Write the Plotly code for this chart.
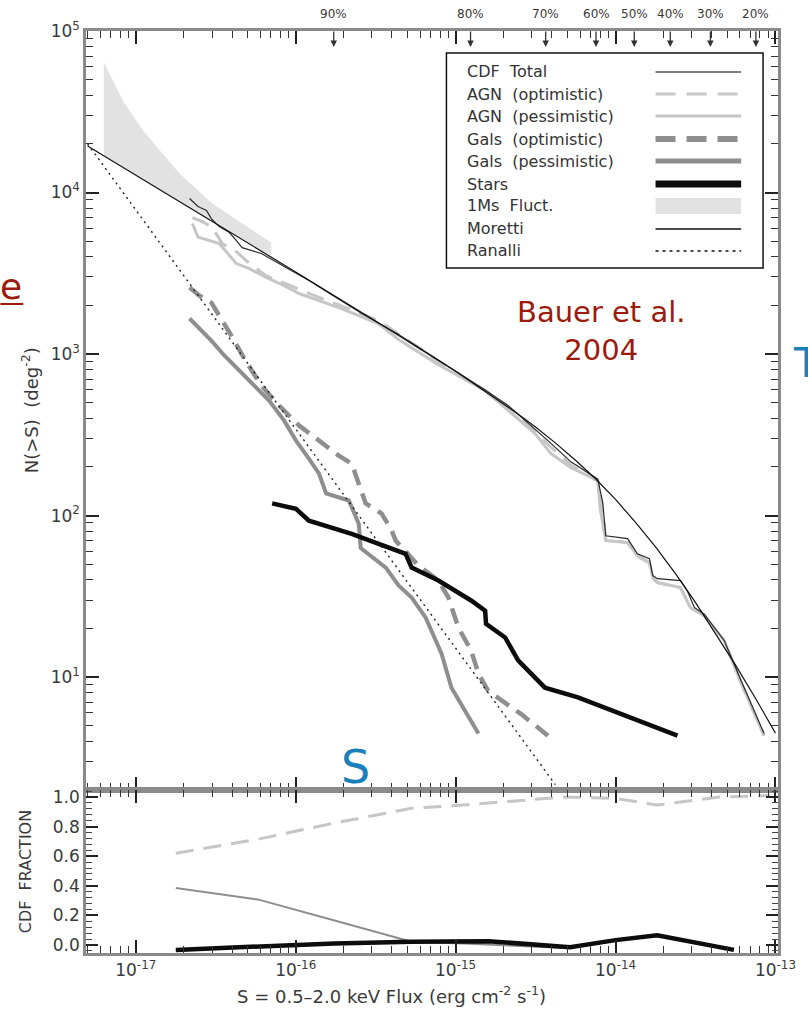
import math
import plotly.graph_objects as go

# ---------------- data ----------------
# Moretti et al. model curve, N(>S) in deg^-2 vs flux S (erg cm^-2 s^-1)
moretti_s = [5e-18, 1e-17, 3.16e-17, 1e-16, 3.16e-16, 1e-15, 1.78e-15, 2.37e-15, 3.16e-15,
             4.22e-15, 5.62e-15, 7.5e-15, 1e-14, 1.33e-14, 1.78e-14, 2.37e-14, 3.16e-14,
             4.22e-14, 5.62e-14, 7.5e-14, 1e-13]
moretti_n = [19400, 12850, 6440, 3220, 1600, 782, 533, 436, 353, 281, 220, 169, 126, 91,
             64, 43.7, 29, 18.7, 11.9, 7.4, 4.5]

# Ranalli et al. power law
ranalli_s = [5e-18, 1e-16, 1e-15, 4.2e-15]
ranalli_n = [20000, 345, 15.2, 2.16]

# 1Ms fluctuation band
fluct_s = [6.32e-18, 8.3e-18, 1.11e-17, 1.88e-17, 3.01e-17, 5.35e-17, 7.03e-17]
fluct_hi = [63800, 37150, 24200, 13100, 8550, 5820, 4900]
fluct_lo = [16900, 14400, 12100, 8810, 6640, 4700, 4100]

# CDF total
cdf_s = [2.17e-17, 2.45e-17, 2.77e-17, 2.97e-17, 3.33e-17, 3.85e-17, 4.26e-17, 4.63e-17,
         6.1e-17, 7.88e-17, 1.21e-16, 1.79e-16, 2.59e-16, 4.4e-16, 7.81e-16, 1.53e-15,
         2.13e-15, 3.14e-15, 3.95e-15, 5.26e-15, 7.75e-15, 8.32e-15, 8.69e-15, 1.19e-14,
         1.37e-14, 1.63e-14, 1.71e-14, 1.83e-14, 2.55e-14, 2.82e-14, 3.11e-14, 3.59e-14,
         4.79e-14, 6.02e-14, 8.49e-14]
cdf_n = [9180, 8200, 7750, 6900, 6150, 5650, 5040, 4560, 4190, 3630, 2850, 2240, 1780,
         1320, 920, 600, 480, 345, 280, 215, 168, 120, 75, 72, 58, 54, 42.5, 40.7, 39.6,
         34, 27, 24.5, 16.8, 9.8, 4.47]

# AGN (pessimistic)
agnp_s = [2.26e-17, 2.45e-17, 3.33e-17, 3.85e-17, 4.26e-17, 5.13e-17, 6.55e-17, 8.47e-17,
          1.05e-16, 1.4e-16, 1.86e-16, 2.48e-16, 3.3e-16, 4.4e-16, 7.81e-16, 1.53e-15,
          2.13e-15, 3.14e-15, 3.95e-15, 5.26e-15, 7.75e-15, 8.0e-15, 8.69e-15, 1.19e-14,
          1.37e-14, 1.63e-14, 1.71e-14, 1.83e-14, 2.55e-14, 2.94e-14, 3.59e-14, 4.79e-14,
          6.02e-14, 8.49e-14]
agnp_n = [6430, 5300, 4830, 4070, 3630, 3380, 2980, 2650, 2370, 2140, 1940, 1730, 1540,
          1230, 860, 594, 447, 322, 242, 198, 165, 112, 70, 68, 56.5, 51.2, 41.3, 38.5,
          35.8, 26.9, 24.0, 16.8, 9.5, 4.34]

# AGN (optimistic)
agno_s = [2.26e-17, 2.61e-17, 3.01e-17, 3.48e-17, 4.26e-17, 4.91e-17, 6.55e-17, 8.47e-17,
          1.005e-16, 1.4e-16, 2.06e-16, 3.3e-16, 5.86e-16, 1.0e-15, 1.53e-15, 2.13e-15,
          3.14e-15, 3.95e-15, 5.26e-15, 7.75e-15, 8.2e-15, 8.69e-15, 1.19e-14, 1.37e-14,
          1.63e-14, 1.71e-14, 1.83e-14, 2.55e-14, 2.94e-14, 3.59e-14, 4.79e-14, 6.02e-14,
          8.49e-14]
agno_n = [7000, 6600, 6070, 4830, 4300, 3790, 3050, 2750, 2580, 2240, 1940, 1610, 1100,
          760, 598, 460, 330, 265, 205, 163, 120, 71, 68, 56, 51, 41, 38.5, 35.8, 26.9,
          24.0, 16.8, 9.5, 4.34]

# Galaxies (optimistic)
galo_s = [2.17e-17, 2.5e-17, 2.97e-17, 3.33e-17, 3.96e-17, 4.77e-17, 6.1e-17, 7.88e-17,
          1.05e-16, 1.4e-16, 1.86e-16, 2.24e-16, 2.48e-16, 2.74e-16, 3.45e-16, 3.98e-16,
          4.22e-16, 5.86e-16, 7.81e-16, 9.02e-16, 1.04e-15, 1.25e-15, 1.39e-15, 1.6e-15,
          2.57e-15, 3.78e-15]
galo_n = [2580, 2300, 2080, 1730, 1300, 938, 638, 480, 361, 291, 235, 210, 158, 119, 103,
          81, 70, 49, 39.6, 31.1, 20.3, 14.6, 10.5, 8.2, 5.9, 4.34]

# Galaxies (pessimistic)
galp_s = [2.17e-17, 2.5e-17, 2.97e-17, 3.58e-17, 4.44e-17, 5.51e-17, 6.82e-17, 8.47e-17,
          1.005e-16, 1.21e-16, 1.4e-16, 1.55e-16, 2.15e-16, 2.48e-16, 2.55e-16, 3.66e-16,
          4.4e-16, 5.31e-16, 6.49e-16, 8.16e-16, 9.42e-16, 1.39e-15]
galp_n = [1660, 1440, 1210, 980, 791, 638, 515, 387, 291, 225, 182, 137, 124, 89, 63, 47.6,
          36.9, 31.1, 23.4, 14.0, 8.6, 4.47]

# Stars
star_s = [7.13e-17, 1.005e-16, 1.21e-16, 2.24e-16, 4.87e-16, 5.31e-16, 7.81e-16, 1.25e-15,
          1.53e-15, 1.55e-15, 2.04e-15, 2.46e-15, 3.62e-15, 5.82e-15, 2.44e-14]
star_n = [119, 110, 93, 77, 58, 47.6, 39.6, 29.8, 25.8, 21.4, 17.6, 12.7, 8.6, 7.5, 4.34]

# Completeness levels along the top axis
pct_labels = ["90%", "80%", "70%", "60%", "50%", "40%", "30%", "20%"]
pct_flux = [1.73e-16, 1.24e-15, 3.66e-15, 7.55e-15, 1.31e-14, 2.2e-14, 3.92e-14, 7.55e-14]

# Lower panel: cumulative fractions
frac_agn_s = [1.78e-17, 5.79e-17, 1.75e-16, 5.3e-16, 1.11e-15, 4.85e-15, 1e-14, 1.82e-14,
              4.47e-14, 9.3e-14]
frac_agn = [0.62, 0.714, 0.824, 0.923, 0.945, 1.0, 0.99, 0.945, 1.0, 1.01]
frac_gal_s = [1.78e-17, 5.79e-17, 1.75e-16, 5.3e-16, 1.11e-15, 4.85e-15]
frac_gal = [0.385, 0.308, 0.165, 0.022, 0.011, -0.02]
frac_star_s = [1.78e-17, 5.79e-17, 1.75e-16, 5.3e-16, 1.6e-15, 5.2e-15, 1e-14, 1.82e-14,
               5.5e-14]
frac_star = [-0.033, -0.011, 0.011, 0.022, 0.026, -0.015, 0.033, 0.066, -0.033]

legend_rows = ["CDF  Total", "AGN  (optimistic)", "AGN  (pessimistic)", "Gals  (optimistic)",
               "Gals  (pessimistic)", "Stars", "1Ms  Fluct.", "Moretti", "Ranalli"]

# tick positions / labels
x_major = [1e-17, 1e-16, 1e-15, 1e-14, 1e-13]
x_major_text = ["10<sup>-17</sup>", "10<sup>-16</sup>", "10<sup>-15</sup>",
                "10<sup>-14</sup>", "10<sup>-13</sup>"]
y_major = [10, 100, 1000, 10000, 100000]
y_major_text = ["10<sup>1</sup>", "10<sup>2</sup>", "10<sup>3</sup>", "10<sup>4</sup>",
                "10<sup>5</sup>"]

# ---------------- layout geometry ----------------
W, H = 808, 1011
L_M, R_M, T_M, B_M = 86, 27, 31, 58
PW, PH = W - L_M - R_M, H - T_M - B_M
SPLIT = 790  # pixel row where the two panels meet


def px(xpix):
    return (xpix - L_M) / PW


def py(ypix):
    return (H - B_M - ypix) / PH


def log_minor_vals(lo_exp, hi_exp):
    return [m * 10.0 ** e for e in range(lo_exp, hi_exp + 1) for m in range(2, 10)]


low_top = py(SPLIT)

C_LIGHT = "#c6c6c6"
C_MID = "#8e8e8e"
C_DARK = "#0c0c0c"
FONT = "DejaVu Sans"
TXT = "#3a3a3a"

fig = go.Figure()

# fluctuation band
fig.add_trace(go.Scatter(
    x=fluct_s + fluct_s[::-1], y=fluct_hi + fluct_lo[::-1],
    fill="toself", fillcolor="#e2e2e2", line=dict(width=0), mode="lines",
    xaxis="x", yaxis="y", hoverinfo="skip"))

main_lines = [
    (agnp_s, agnp_n, dict(color=C_LIGHT, width=3)),
    (agno_s, agno_n, dict(color=C_LIGHT, width=3, dash="18px,10px")),
    (cdf_s, cdf_n, dict(color="#2a2a2a", width=1.2)),
    (moretti_s, moretti_n, dict(color="#111111", width=1.2)),
    (galp_s, galp_n, dict(color=C_MID, width=4)),
    (galo_s, galo_n, dict(color=C_MID, width=4.5, dash="16px,9px")),
    (star_s, star_n, dict(color=C_DARK, width=4.5)),
    (ranalli_s, ranalli_n, dict(color="#222222", width=1.4, dash="2px,4px")),
]
for xs, ys, ln in main_lines:
    fig.add_trace(go.Scatter(x=xs, y=ys, mode="lines", line=ln, xaxis="x", yaxis="y",
                             hoverinfo="skip"))

low_lines = [
    (frac_agn_s, frac_agn, dict(color=C_LIGHT, width=3, dash="18px,10px")),
    (frac_gal_s, frac_gal, dict(color=C_MID, width=2)),
    (frac_star_s, frac_star, dict(color=C_DARK, width=4.5)),
]
for xs, ys, ln in low_lines:
    fig.add_trace(go.Scatter(x=xs, y=ys, mode="lines", line=ln, xaxis="x2", yaxis="y2",
                             hoverinfo="skip"))

XR = [-17.311, -12.984]
axis_common = dict(showgrid=False, zeroline=False, showline=True, linecolor="#8a8a8a",
                   linewidth=2.5, mirror="allticks", ticks="inside", tickcolor="#222222",
                   tickwidth=1.8, tickfont=dict(family=FONT, size=17, color=TXT))
x_minor = dict(ticks="inside", ticklen=7, tickcolor="#333333", tickwidth=1.4,
               tickmode="array", tickvals=log_minor_vals(-18, -14))
y_minor = dict(ticks="inside", ticklen=7, tickcolor="#333333", tickwidth=1.4,
               tickmode="array", tickvals=log_minor_vals(0, 4))

fig.update_layout(
    width=W, height=H, margin=dict(l=L_M, r=R_M, t=T_M, b=B_M),
    paper_bgcolor="white", plot_bgcolor="white", showlegend=False,
    xaxis=dict(type="log", range=XR, domain=[0, 1], anchor="y", tickmode="array",
               tickvals=x_major, ticklen=13, showticklabels=False, minor=x_minor,
               **axis_common),
    yaxis=dict(type="log", range=[0.301, 5.0], domain=[low_top, 1], anchor="x",
               tickmode="array", tickvals=y_major, ticktext=y_major_text, ticklen=13,
               minor=y_minor, **axis_common),
    xaxis2=dict(type="log", range=XR, domain=[0, 1], anchor="y2", tickmode="array",
                tickvals=x_major, ticktext=x_major_text, ticklen=13, minor=x_minor,
                **axis_common),
    yaxis2=dict(range=[-0.054, 1.047], domain=[0, low_top], anchor="x2", dtick=0.2,
                tick0=0, ticklen=12, tickformat=".1f",
                minor=dict(ticks="inside", ticklen=6, tickcolor="#444444", tickwidth=1.3,
                           dtick=0.04, tick0=0),
                **axis_common),
)

ann = []
shapes = []

# completeness labels with arrows pointing down onto the top axis
for lab, f in zip(pct_labels, pct_flux):
    ann.append(dict(x=math.log10(f), xref="x", y=py(47), yref="paper", text=lab,
                    showarrow=True, ax=0, ay=-33, arrowhead=2, arrowsize=1,
                    arrowwidth=1.3, arrowcolor="#333333", startstandoff=9,
                    font=dict(family=FONT, size=12, color=TXT)))

# axis titles
ann.append(dict(x=px(30), y=py(410), xref="paper", yref="paper",
                text="N(>S)  (deg<sup>-2</sup>)", textangle=-90, showarrow=False,
                xanchor="center", yanchor="middle",
                font=dict(family=FONT, size=18, color=TXT)))
ann.append(dict(x=px(25), y=py(872), xref="paper", yref="paper", text="CDF  FRACTION",
                textangle=-90, showarrow=False, xanchor="center", yanchor="middle",
                font=dict(family=FONT, size=16, color=TXT)))
ann.append(dict(x=px(393), y=py(995), xref="paper", yref="paper",
                text="S = 0.5\u20132.0 keV Flux (erg cm<sup>-2</sup> s<sup>-1</sup>)",
                showarrow=False, xanchor="center", yanchor="middle",
                font=dict(family=FONT, size=18, color=TXT)))

# legend box
shapes.append(dict(type="rect", xref="paper", yref="paper", x0=px(448), x1=px(766),
                   y0=py(268), y1=py(53), line=dict(color="#111111", width=1.5),
                   fillcolor="white", layer="above"))
row_y = [72, 94, 116, 139, 161, 184, 206, 229, 251]
samples = [
    dict(color="#555555", width=1.5),
    dict(color=C_LIGHT, width=3, dash="20px,11px"),
    dict(color=C_LIGHT, width=3),
    dict(color=C_MID, width=6, dash="20px,11px"),
    dict(color=C_MID, width=5),
    dict(color=C_DARK, width=7),
    None,
    dict(color="#111111", width=1.5),
    dict(color="#111111", width=1.5, dash="3px,4px"),
]
for lab, yy, smp in zip(legend_rows, row_y, samples):
    ann.append(dict(x=px(467), y=py(yy), xref="paper", yref="paper", text=lab,
                    showarrow=False, xanchor="left", yanchor="middle",
                    font=dict(family=FONT, size=16, color="#333333")))
    if smp is None:
        shapes.append(dict(type="rect", xref="paper", yref="paper", x0=px(658), x1=px(744),
                           y0=py(yy + 8), y1=py(yy - 8), line=dict(width=0),
                           fillcolor="#e2e2e2", layer="above"))
    else:
        shapes.append(dict(type="line", xref="paper", yref="paper", x0=px(658), x1=px(744),
                           y0=py(yy), y1=py(yy), line=smp, layer="above"))

# overlay labels
RED = "#9b1b0d"
BLUE = "#1b7fb9"
ann.append(dict(x=px(604), y=py(331), xref="paper", yref="paper",
                text="Bauer et al.<br>2004", showarrow=False, xanchor="center",
                yanchor="middle", font=dict(family=FONT, size=29, color=RED)))
ann.append(dict(x=px(794), y=py(363), xref="paper", yref="paper", text="T",
                showarrow=False, xanchor="left", yanchor="middle",
                font=dict(family=FONT, size=41, color=BLUE)))
ann.append(dict(x=px(357), y=py(767), xref="paper", yref="paper", text="S",
                showarrow=False, xanchor="center", yanchor="middle",
                font=dict(family=FONT, size=46, color=BLUE)))
ann.append(dict(x=px(11), y=py(287), xref="paper", yref="paper", text="e",
                showarrow=False, xanchor="center", yanchor="middle",
                font=dict(family=FONT, size=36, color=RED)))
shapes.append(dict(type="line", xref="paper", yref="paper", x0=px(0), x1=px(23),
                   y0=py(304), y1=py(304), line=dict(color=RED, width=2)))

fig.update_layout(annotations=ann, shapes=shapes)
fig.write_html("out.html")
